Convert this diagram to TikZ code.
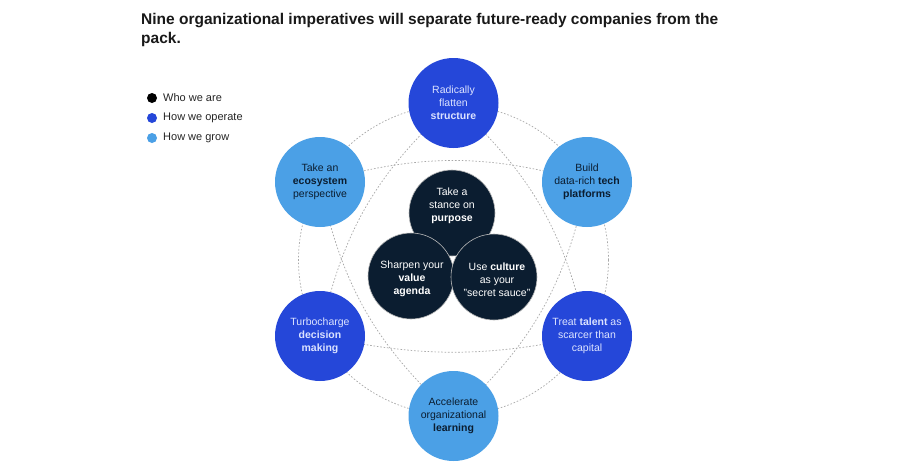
\documentclass[tikz,border=0pt]{standalone}
\usepackage{fontspec}
\setmainfont{Liberation Sans}
\definecolor{navy}{HTML}{0B1D30}
\definecolor{opblue}{HTML}{2547D9}
\definecolor{oplight}{HTML}{DCE3FF}
\definecolor{growblue}{HTML}{4BA0E6}
\definecolor{dashgray}{HTML}{A8A8A8}
\pgfdeclarelayer{background}
\pgfsetlayers{background,main}
\tikzset{
  outer/.style={circle, minimum size=90pt, inner sep=0pt, align=center,
    font=\fontsize{10.5}{12.8}\selectfont},
  opcircle/.style={outer, fill=opblue, text=oplight},
  growcircle/.style={outer, fill=growblue, text=navy},
  corecircle/.style={circle, minimum size=86pt, inner sep=0pt, align=center,
    fill=navy, draw=gray!55, line width=0.6pt, text=white,
    font=\fontsize{10.5}{12.8}\selectfont},
  coretext/.style={text=white, align=center, font=\fontsize{10.5}{12.8}\selectfont},
  dashline/.style={draw=dashgray, line width=0.7pt, dash pattern=on 1.6pt off 1.8pt},
  legdot/.style={circle, minimum size=10pt, inner sep=0pt},
  legtext/.style={anchor=west, inner sep=0pt, font=\fontsize{11}{12}\selectfont, text=black!85},
}
\begin{document}
\begin{tikzpicture}[x=1pt,y=-1pt]
\begin{pgfonlayer}{background}
\fill[white] (0,0) rectangle (900,471);
\end{pgfonlayer}
\useasboundingbox (0,0) rectangle (900,471);

% title
\node[anchor=north west, inner sep=0pt, align=left, text=black!90,
  font=\fontsize{15.5}{19.5}\selectfont\bfseries] (title) at (141,13)
  {Nine organizational imperatives will separate future-ready companies from the\\pack.};

% legend
\node[legdot, fill=black] (d1) at (152,98) {};
\node[legdot, fill=opblue] (d2) at (152,118) {};
\node[legdot, fill=growblue] (d3) at (152,138) {};
\node[legtext] (l1) at (163,98) {Who we are};
\node[legtext] (l2) at (163,118) {How we operate};
\node[legtext] (l3) at (163,138) {How we grow};

% outer circles
\node[opcircle] (top) at (453.5,103) {Radically\\flatten\\\textbf{structure}};
\node[growcircle] (eco) at (320,182) {Take an\\\textbf{ecosystem}\\perspective};
\node[growcircle] (tech) at (587,182) {Build\\data-rich \textbf{tech}\\\textbf{platforms}};
\node[opcircle] (dec) at (320,336) {Turbocharge\\\textbf{decision}\\\textbf{making}};
\node[opcircle] (tal) at (587,336) {Treat \textbf{talent} as\\scarcer than\\capital};
\node[growcircle] (learn) at (453.5,416) {Accelerate\\organizational\\\textbf{learning}};

% core circles
\node[corecircle] (purp) at (452,213) {};
\node[corecircle] (val) at (411,276) {};
\node[corecircle] (cult) at (494,277) {};
\node[coretext] (tpurp) at (452,206) {Take a\\stance on\\\textbf{purpose}};
\node[coretext] (tval) at (412,279) {Sharpen your\\\textbf{value}\\\textbf{agenda}};
\node[coretext] (tcult) at (497,280) {Use \textbf{culture}\\as your\\"secret sauce"};

% dashed connectors
\begin{pgfonlayer}{background}
\coordinate (hub) at (453.5,260);
\draw[dashline] (hub) circle[radius=155pt];
\draw[dashline] (top.center) to[bend right=18] (dec.center);
\draw[dashline] (dec.center) to[bend right=12] (tal.center);
\draw[dashline] (tal.center) to[bend right=18] (top.center);
\draw[dashline] (eco.center) to[bend right=18] (learn.center);
\draw[dashline] (learn.center) to[bend right=18] (tech.center);
\draw[dashline] (tech.center) to[bend right=16] (eco.center);
\end{pgfonlayer}
\end{tikzpicture}
\end{document}
